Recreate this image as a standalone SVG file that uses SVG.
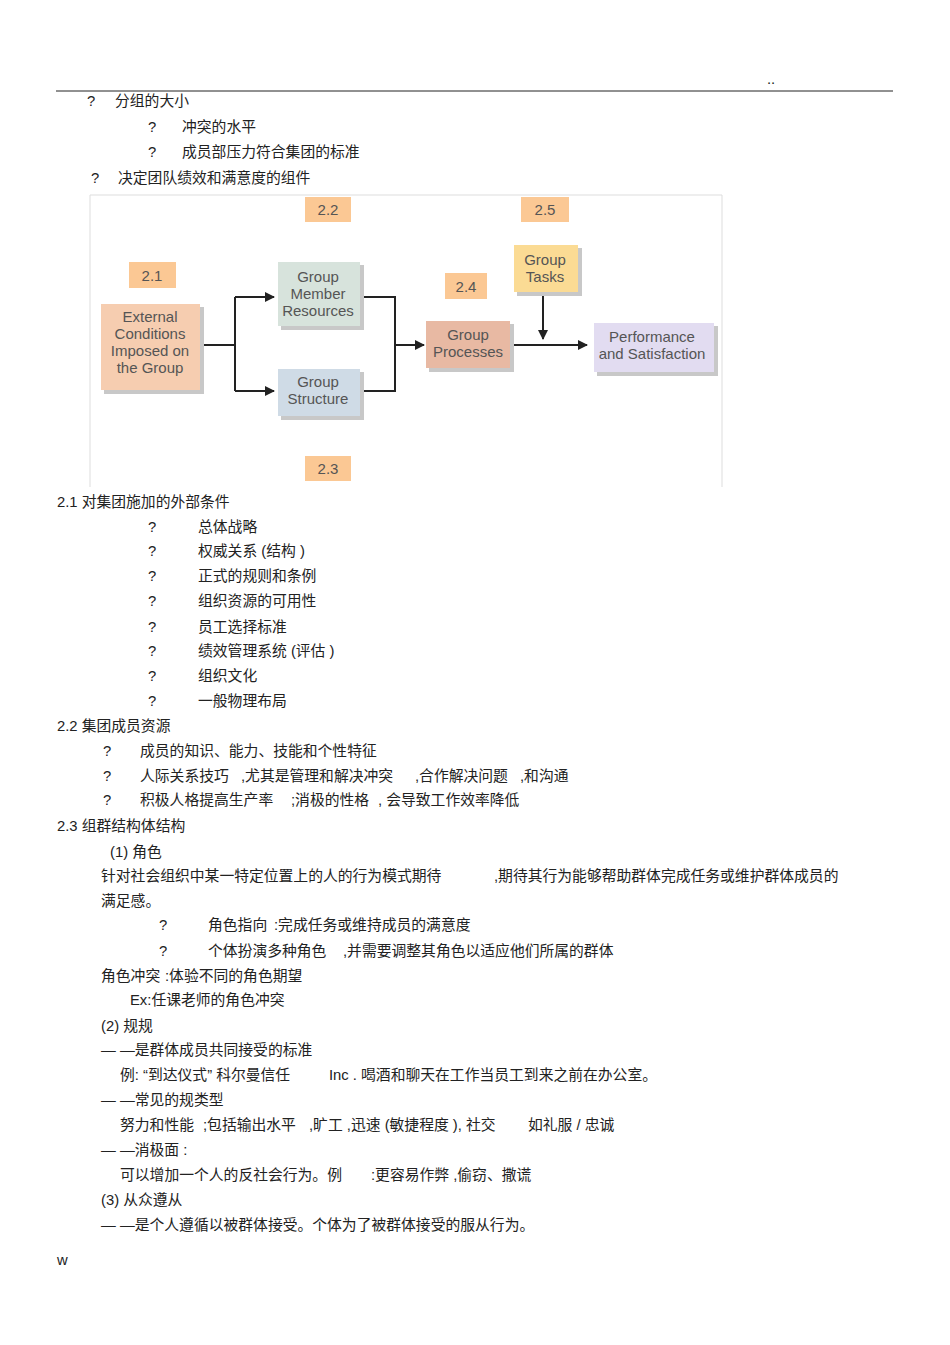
<svg xmlns="http://www.w3.org/2000/svg" width="950" height="1345" viewBox="0 0 950 1345">
<style>
text{font-family:"Liberation Sans","Noto Sans CJK SC",sans-serif;font-size:14.8px;fill:#222}
.d{font-size:15px;fill:#555;text-anchor:middle}
.n{font-size:15px;fill:#555;text-anchor:middle}
.lb{fill:#fbc894}
.sh{fill:#c8c8c8}
.c{stroke:#222;stroke-width:2;fill:none}
</style>
<defs><marker id="a" viewBox="0 0 10 10" refX="9" refY="5" markerWidth="5" markerHeight="5" orient="auto"><path d="M0,0L10,5L0,10z" fill="#222"/></marker></defs>
<rect width="950" height="1345" fill="#fff"/>
<text x="767" y="84" font-size="10">..</text>
<line x1="56" y1="91" x2="893" y2="91" stroke="#222" stroke-width="1"/>
<text x="87" y="106">?</text><text x="115" y="106">分组的大小</text>
<text x="148" y="132">?</text><text x="182" y="132">冲突的水平</text>
<text x="148" y="157">?</text><text x="182" y="157">成员部压力符合集团的标准</text>
<text x="91" y="183">?</text><text x="118" y="183">决定团队绩效和满意度的组件</text>
<path d="M90,487V195H722V487" fill="none" stroke="#ddd"/>
<g id="connectors">
<path class="c" d="M200,345H235"/><path class="c" d="M235,297V391"/>
<path class="c" d="M235,297H274" marker-end="url(#a)"/><path class="c" d="M235,391H274" marker-end="url(#a)"/>
<path class="c" d="M360,297H395V391H360"/>
<path class="c" d="M395,345H424" marker-end="url(#a)"/>
<path class="c" d="M510,345H587" marker-end="url(#a)"/>
<path class="c" d="M543,292V339" marker-end="url(#a)"/>
</g>
<g id="l22"><rect class="lb" x="305" y="197" width="46" height="25"/><text class="n" x="328" y="215">2.2</text></g>
<g id="l25"><rect class="lb" x="521" y="197" width="48" height="25"/><text class="n" x="545" y="215">2.5</text></g>
<g id="l21"><rect class="lb" x="129" y="262" width="47" height="26"/><text class="n" x="152" y="281">2.1</text></g>
<g id="l24"><rect class="lb" x="445" y="273" width="42" height="26"/><text class="n" x="466" y="292">2.4</text></g>
<g id="l23"><rect class="lb" x="305" y="456" width="46" height="25"/><text class="n" x="328" y="474">2.3</text></g>
<g id="ext"><rect class="sh" x="104" y="307" width="100" height="87"/><rect x="101" y="304" width="99" height="86" fill="#f6cdb0"/>
<text class="d" x="150" y="322">External</text><text class="d" x="150" y="339">Conditions</text><text class="d" x="150" y="356">Imposed on</text><text class="d" x="150" y="373">the Group</text></g>
<g id="gmr"><rect class="sh" x="281" y="265" width="83" height="65"/><rect x="278" y="262" width="82" height="64" fill="#d7e3dc"/>
<text class="d" x="318" y="282">Group</text><text class="d" x="318" y="299">Member</text><text class="d" x="318" y="316">Resources</text></g>
<g id="gs"><rect class="sh" x="281" y="372" width="83" height="48"/><rect x="278" y="369" width="82" height="47" fill="#cfdbe6"/>
<text class="d" x="318" y="387">Group</text><text class="d" x="318" y="404">Structure</text></g>
<g id="gp"><rect class="sh" x="429" y="324" width="85" height="48"/><rect x="426" y="321" width="84" height="47" fill="#e8b9a3"/>
<text class="d" x="468" y="340">Group</text><text class="d" x="468" y="357">Processes</text></g>
<g id="gt"><rect class="sh" x="517" y="248" width="65" height="48"/><rect x="514" y="245" width="64" height="47" fill="#fbdb94"/>
<text class="d" x="545" y="265">Group</text><text class="d" x="545" y="282">Tasks</text></g>
<g id="ps"><rect class="sh" x="597" y="326" width="121" height="50"/><rect x="594" y="323" width="120" height="49" fill="#e2dcf1"/>
<text class="d" x="652" y="342">Performance</text><text class="d" x="652" y="359">and Satisfaction</text></g>
<text x="57" y="507">2.1  对集团施加的外部条件</text>
<text x="148" y="532">?</text><text x="198" y="532">总体战略</text>
<text x="148" y="556">?</text><text x="198" y="556">权威关系  (结构 )</text>
<text x="148" y="581">?</text><text x="198" y="581">正式的规则和条例</text>
<text x="148" y="606">?</text><text x="198" y="606">组织资源的可用性</text>
<text x="148" y="632">?</text><text x="198" y="632">员工选择标准</text>
<text x="148" y="656">?</text><text x="198" y="656">绩效管理系统   (评估 )</text>
<text x="148" y="681">?</text><text x="198" y="681">组织文化</text>
<text x="148" y="706">?</text><text x="198" y="706">一般物理布局</text>
<text x="57" y="731">2.2  集团成员资源</text>
<text x="103" y="756">?</text><text x="140" y="756">成员的知识、能力、技能和个性特征</text>
<text x="103" y="781">?</text><text x="140" y="781">人际关系技巧</text><text x="241" y="781">,尤其是管理和解决冲突</text><text x="415" y="781">,合作解决问题</text><text x="520" y="781">,和沟通</text>
<text x="103" y="805">?</text><text x="140" y="805">积极人格提高生产率</text><text x="291" y="805">;消极的性格</text><text x="378" y="805">, 会导致工作效率降低</text>
<text x="57" y="831">2.3  组群结构体结构</text>
<text x="110" y="857">(1) 角色</text>
<text x="101" y="881">针对社会组织中某一特定位置上的人的行为模式期待</text><text x="494" y="881">,期待其行为能够帮助群体完成任务或维护群体成员的</text>
<text x="101" y="906">满足感。</text>
<text x="159" y="930">?</text><text x="208" y="930">角色指向</text><text x="274" y="930">:完成任务或维持成员的满意度</text>
<text x="159" y="956">?</text><text x="208" y="956">个体扮演多种角色</text><text x="343" y="956">,并需要调整其角色以适应他们所属的群体</text>
<text x="101" y="981">角色冲突</text><text x="165" y="981">:体验不同的角色期望</text>
<text x="130" y="1005">Ex:任课老师的角色冲突</text>
<text x="101" y="1031">(2) 规规</text>
<text x="101" y="1055">— —是群体成员共同接受的标准</text>
<text x="120" y="1080">例: “到达仪式” 科尔曼信任</text><text x="329" y="1080">Inc . 喝酒和聊天在工作当员工到来之前在办公室。</text>
<text x="101" y="1105">— —常见的规类型</text>
<text x="120" y="1130">努力和性能</text><text x="203" y="1130">;包括输出水平</text><text x="309" y="1130">,旷工 ,迅速 (敏捷程度 ), 社交</text><text x="528" y="1130">如礼服 / 忠诚</text>
<text x="101" y="1155">— —消极面  :</text>
<text x="120" y="1180">可以增加一个人的反社会行为。例</text><text x="371" y="1180">:更容易作弊 ,偷窃、撒谎</text>
<text x="101" y="1205">(3) 从众遵从</text>
<text x="101" y="1230">— —是个人遵循以被群体接受。个体为了被群体接受的服从行为。</text>
<text x="57" y="1265" font-size="11">w</text>
</svg>
